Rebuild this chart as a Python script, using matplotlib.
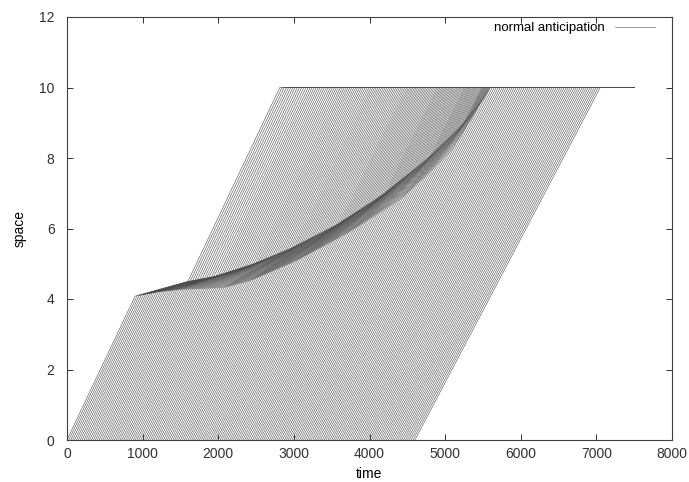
import numpy as np
import matplotlib
matplotlib.use('Agg')
import matplotlib.pyplot as plt

plt.rcParams['font.family'] = ['Liberation Sans', 'DejaVu Sans']

# ---- data ----
depart_times = [0, 25, 50, 75, 100, 125, 150, 175, 200, 225, 250, 275, 300, 325, 350, 375, 400, 425, 450, 475,
                500, 525, 550, 575, 600, 625, 650, 675, 700, 725, 750, 775, 800, 825, 850, 875, 900, 925, 950, 975,
                1000, 1025, 1050, 1075, 1100, 1125, 1150, 1175, 1200, 1225, 1250, 1275, 1300, 1325, 1350, 1375,
                1400, 1425, 1450, 1475, 1500, 1525, 1550, 1575, 1600, 1625, 1650, 1675, 1700, 1725, 1750, 1775,
                1800, 1825, 1850, 1875, 1900, 1925, 1950, 1975, 2000, 2025, 2050, 2075, 2100, 2125, 2150, 2175,
                2200, 2225, 2250, 2275, 2300, 2325, 2350, 2375, 2400, 2425, 2450, 2475, 2500, 2525, 2550, 2575,
                2600, 2625, 2650, 2675, 2700, 2725, 2750, 2775, 2800, 2825, 2850, 2875, 2900, 2925, 2950, 2975,
                3000, 3025, 3050, 3075, 3100, 3125, 3150, 3175, 3200, 3225, 3250, 3275, 3300, 3325, 3350, 3375,
                3400, 3425, 3450, 3475, 3500, 3525, 3550, 3575, 3600, 3625, 3650, 3675, 3700, 3725, 3750, 3775,
                3800, 3825, 3850, 3875, 3900, 3925, 3950, 3975, 4000, 4025, 4050, 4075, 4100, 4125, 4150, 4175,
                4200, 4225, 4250, 4275, 4300, 4325, 4350, 4375, 4400, 4425, 4450, 4475, 4500, 4525, 4550, 4575,
                4600]
speed_first, speed_last = 4.53e-3, 4.08e-3        # space per time unit
# lower edge of the slow band (where arriving vehicles are caught)
band_low_t = [900, 1200, 1500, 2050, 2400, 3000, 3700, 4400, 5050, 5600]
band_low_x = [4.08, 4.20, 4.27, 4.31, 4.50, 5.05, 5.85, 6.80, 8.10, 10.0]
# upper edge of the slow band (where vehicles leave at free speed)
band_high_t = [1600, 2000, 2500, 3000, 3600, 4200, 4800, 5250, 5600]
band_high_x = [4.50, 4.66, 5.02, 5.48, 6.15, 7.00, 8.05, 9.00, 10.0]
exit_first, exit_last = 1600, 5600
road_end = 10.0
t_final = 7500
xticks = [0, 1000, 2000, 3000, 4000, 5000, 6000, 7000, 8000]
yticks = [0, 2, 4, 6, 8, 10, 12]

# ---- figure ----
fig = plt.figure(figsize=(6.89, 4.82), dpi=100)
ax = fig.add_axes([67/689, 1-440/482, (672-67)/689, (440-17)/482])

n = len(depart_times)
speeds = np.linspace(speed_first, speed_last, n)
grid = np.linspace(band_low_t[0], band_low_t[-1], 40001)
low_on_grid = np.interp(grid, band_low_t, band_low_x)

hits = []
for t0, v in zip(depart_times, speeds):
    f = v * (grid - t0) - low_on_grid
    idx = np.nonzero(f >= 0)[0]
    hits.append(idx[0] if len(idx) else None)

affected = [i for i in range(n) if hits[i] is not None]
exits = np.linspace(exit_first, exit_last, len(affected))
exit_of = dict(zip(affected, exits))

for i, (t0, v) in enumerate(zip(depart_times, speeds)):
    if hits[i] is not None:
        h = grid[hits[i]]
        xh = low_on_grid[hits[i]]
        d = exit_of[i]
        xd = np.interp(d, band_high_t, band_high_x)
        e = d + (road_end - xd) / v
        ts = [t0, h, d, e, t_final]
        xs = [0, xh, xd, road_end, road_end]
    else:
        e = t0 + road_end / v
        ts = [t0, e, t_final]
        xs = [0, road_end, road_end]
    ax.plot(ts, xs, color='#4a4a4a', lw=0.4, solid_joinstyle='miter',
            label='normal anticipation' if i == 0 else None)

ax.set_xlim(0, 8000)
ax.set_ylim(0, 12)
ax.set_xticks(xticks)
ax.set_yticks(yticks)
ax.tick_params(direction='in', top=True, right=True, length=4, width=0.7,
               colors='#303030', labelsize=10)
ax.tick_params(axis='x', pad=5)
ax.tick_params(axis='y', pad=9)
for s in ax.spines.values():
    s.set_linewidth(0.8)
    s.set_color('#404040')
ax.set_xlabel('time', fontsize=10, labelpad=4)
ax.set_ylabel('space', fontsize=10, labelpad=9)

ax.legend(loc='upper right', bbox_to_anchor=(0.972, 0.988), frameon=False,
          markerfirst=False, fontsize=9.5, handlelength=3.0, borderaxespad=0,
          borderpad=0, handletextpad=0.8)

fig.savefig('out.png', dpi=100)
